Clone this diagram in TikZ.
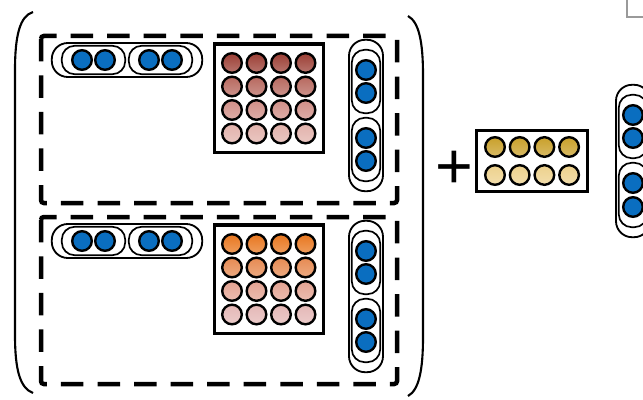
\documentclass[tikz,border=0pt]{standalone}
\usepackage{fontspec}
\setmainfont{Liberation Sans}
\usetikzlibrary{fit,positioning}
\definecolor{kblue}{HTML}{0A6EC0}
\definecolor{kr1}{HTML}{9C3F35}
\definecolor{kr2}{HTML}{B8695F}
\definecolor{kr3}{HTML}{D18F87}
\definecolor{kr4}{HTML}{E2B2AB}
\definecolor{ko1}{HTML}{E8771F}
\definecolor{ko2}{HTML}{E68A52}
\definecolor{ko3}{HTML}{E4A392}
\definecolor{ko4}{HTML}{E4B8B6}
\definecolor{ky1}{HTML}{C9A02A}
\definecolor{ky2}{HTML}{EDD18C}
\definecolor{kedge}{HTML}{9A9A9A}
\tikzset{
  ball/.style={circle,draw=black,line width=1.7pt,minimum size=4.9mm,inner sep=0pt},
  bball/.style={ball,fill=kblue},
  sball/.style={ball,top color=#1,bottom color=#1!72!white},
  hpill/.style={draw=black,line width=1.3pt,rounded corners=4mm,inner xsep=4.8mm,inner ysep=1.5mm},
  hpair/.style={draw=black,line width=1.2pt,rounded corners=3.2mm,inner xsep=2.3mm,inner ysep=.8mm},
  vpill/.style={draw=black,line width=1.3pt,rounded corners=4mm,inner xsep=1.5mm,inner ysep=4.8mm},
  vpair/.style={draw=black,line width=1.2pt,rounded corners=3.2mm,inner xsep=.8mm,inner ysep=2.3mm},
  mbox/.style={draw=black,line width=2.3pt,inner xsep=1.7mm,inner ysep=2mm},
  panel/.style={draw=black,line width=3.2pt,dash pattern=on 16pt off 10pt,rounded corners=2pt},
  paren/.style={draw=black,line width=1.5pt},
}
\begin{document}
\begin{tikzpicture}[x=0.025cm,y=-0.025cm]
  \useasboundingbox (0,0) rectangle (643,400);

  % ---- left: two stacked panels ----
  \foreach \k/\dy/\pal in {1/0/kr,2/181/ko}{
    \draw[panel] (41,{36+\dy}) rectangle (397,{203+\dy});
    \foreach \i/\x in {1/82,2/105,3/149,4/172}
      \node[bball] (h\k\i) at (\x,{60+\dy}) {};
    \node[hpill,fit=(h\k1)(h\k4)] (hp\k) {};
    \node[hpair,fit=(h\k1)(h\k2)] (hpa\k) {};
    \node[hpair,fit=(h\k3)(h\k4)] (hpb\k) {};
    \foreach \r/\y in {1/63,2/86.5,3/110,4/133.5}
      \foreach \c/\x in {1/232,2/256.5,3/281,4/305.5}
        \node[sball=\pal\r] (m\k\r\c) at (\x,{\y+\dy}) {};
    \node[mbox,fit=(m\k11)(m\k44)] (mb\k) {};
    \foreach \i/\y in {1/70,2/93,3/138,4/161}
      \node[bball] (v\k\i) at (366,{\y+\dy}) {};
    \node[vpill,fit=(v\k1)(v\k4)] (vp\k) {};
    \node[vpair,fit=(v\k1)(v\k2)] (vpa\k) {};
    \node[vpair,fit=(v\k3)(v\k4)] (vpb\k) {};
  }
  \draw[paren] (33,12) .. controls (20,16) and (15,35) .. (15,70) -- (15,335)
    .. controls (15,370) and (20,388) .. (33,393);
  \draw[paren] (408,16) .. controls (419,22) and (423,42) .. (423,75) -- (423,337)
    .. controls (423,370) and (419,390) .. (408,396);

  % ---- right: bias block ----
  \node[font=\fontsize{46}{46}\selectfont] (plus) at (454,170) {+};
  \foreach \r/\y/\cl in {1/147/ky1,2/175/ky2}
    \foreach \c/\x in {1/495,2/519.7,3/544.4,4/569.1}
      \node[sball=\cl] (y\r\c) at (\x,\y) {};
  \node[mbox,fit=(y11)(y24),inner xsep=1.8mm,inner ysep=1.4mm] (yb) {};
  \foreach \i/\y in {1/115,2/138,3/183,4/207}
    \node[bball] (w\i) at (633,\y) {};
  \node[vpill,fit=(w1)(w4)] (wp) {};
  \node[vpair,fit=(w1)(w2)] (wpa) {};
  \node[vpair,fit=(w3)(w4)] (wpb) {};
  \draw[kedge,line width=.9pt] (627,-6) rectangle (670,17);
\end{tikzpicture}
\end{document}
